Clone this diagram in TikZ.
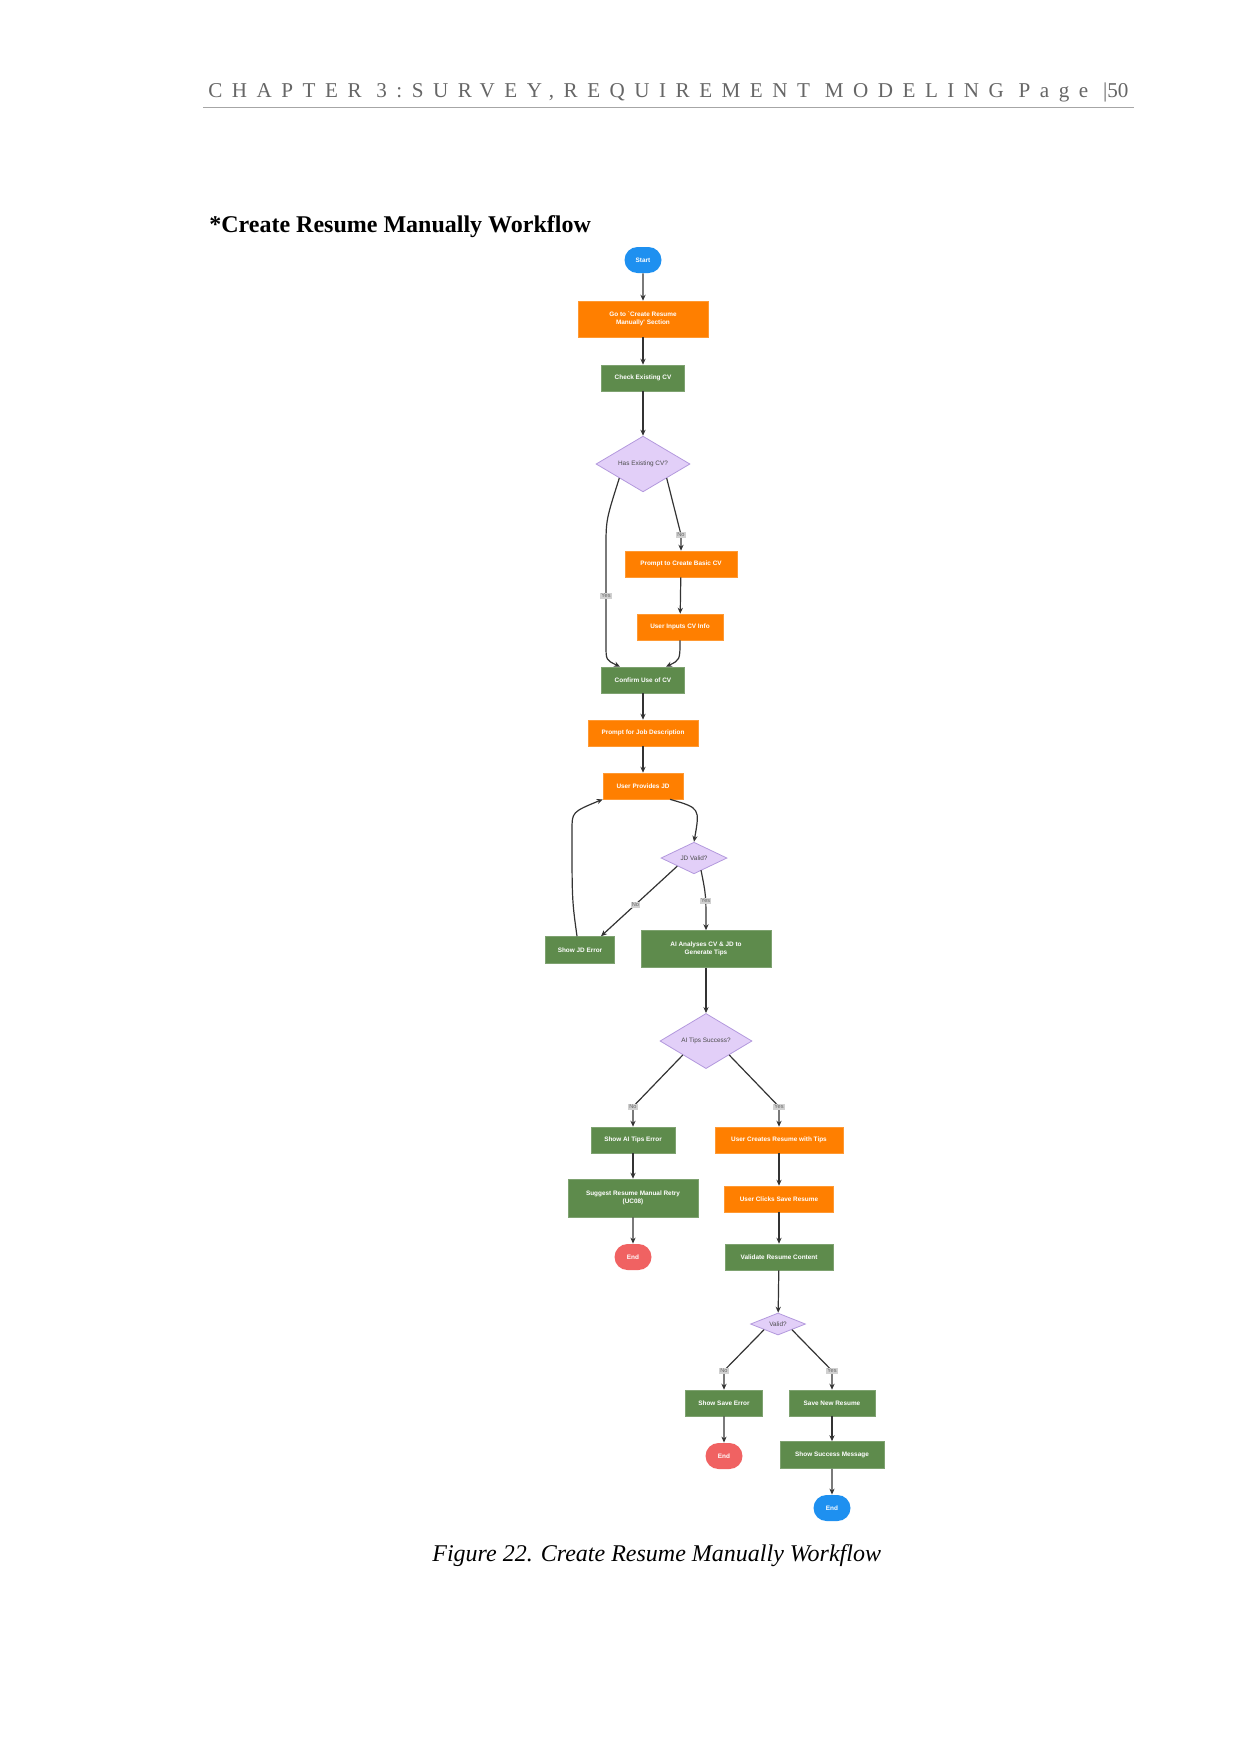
\documentclass[tikz,border=0pt]{standalone}
\usepackage{fontspec}
\setmainfont{Liberation Serif}
\newfontfamily\sans{Liberation Sans}
\newfontfamily\spaced[LetterSpace=45]{Liberation Serif}
\usetikzlibrary{shapes.geometric,shapes.misc,arrows.meta,calc}
\definecolor{cor}{HTML}{FF7F00}
\definecolor{cgr}{HTML}{5E8B4C}
\definecolor{cpu}{HTML}{E2CFF8}
\definecolor{cpb}{HTML}{B399DD}
\definecolor{cbl}{HTML}{1E90F0}
\definecolor{crd}{HTML}{F06262}
\definecolor{cln}{HTML}{333333}
\begin{document}
\begin{tikzpicture}[x=0.5pt,y=-0.5pt,
  base/.style={inner sep=0pt,align=center,text=white,font=\sans\bfseries\fontsize{3.2}{4.2}\selectfont},
  ob/.style={base,rectangle,fill=cor,draw=cor!80!white,line width=0.3pt},
  gb/.style={base,rectangle,fill=cgr,draw=cgr!80!white,line width=0.3pt},
  dm/.style={diamond,aspect=1,inner sep=0pt,fill=cpu,draw=cpb,line width=0.4pt,text=black!70,font=\sans\fontsize{3.2}{4}\selectfont},
  tm/.style={base,rounded rectangle,minimum width=18.5pt,minimum height=13pt},
  lab/.style={fill=black!18,inner sep=0.6pt,text=black!60,font=\sans\fontsize{2.8}{3}\selectfont},
  ar/.style={draw=cln,line width=0.6pt,-{Stealth[length=3pt,width=2.6pt]}}]
\useasboundingbox (0,0) rectangle (1241,1753);
% header
\node[anchor=base west,text=black!60,inner sep=0pt] (hdr) at (208,97)
  {\resizebox{460pt}{!}{{\spaced CHAPTER 3:SURVEY,REQUIREMENT MODELING Page }|50}};
\coordinate (hl) at (203,107); \coordinate (hr) at (1134,107);
\draw[black!35,line width=0.5pt] (hl) -- (hr);
\node[anchor=base west,inner sep=0pt,font=\fontsize{12}{14}\selectfont\bfseries] (title) at (209,232) {*Create Resume Manually Workflow};
\node[anchor=base west,inner sep=0pt,font=\fontsize{12}{14}\selectfont\itshape] (cap) at (432,1561) {Figure 22. Create Resume Manually Workflow};
% nodes
\node[tm,fill=cbl] (start) at (643,260) {Start};
\node[ob,minimum width=65pt,minimum height=18pt] (goto) at (643,319) {Go to `Create Resume\\Manually' Section};
\node[gb,minimum width=41.5pt,minimum height=13pt] (check) at (643,378) {Check Existing CV};
\node[dm,minimum width=47pt] (d1) at (643,464) {Has Existing CV?};
\node[ob,minimum width=56pt,minimum height=13pt] (pbasic) at (681,564) {Prompt to Create Basic CV};
\node[ob,minimum width=43pt,minimum height=13pt] (uinput) at (680,627) {User Inputs CV Info};
\node[gb,minimum width=41.5pt,minimum height=13pt] (confirm) at (643,680) {Confirm Use of CV};
\node[ob,minimum width=55pt,minimum height=13pt] (pjd) at (643,733) {Prompt for Job Description};
\node[ob,minimum width=40pt,minimum height=13pt] (ujd) at (643,786) {User Provides JD};
\node[dm,minimum width=33pt] (d2) at (694,858) {JD Valid?};
\node[gb,minimum width=34.5pt,minimum height=13.5pt] (jderr) at (580,950) {Show JD Error};
\node[gb,minimum width=65pt,minimum height=18.5pt] (ai) at (706,949) {AI Analyses CV \& JD to\\Generate Tips};
\node[dm,minimum width=46pt] (d3) at (706,1041) {AI Tips Success?};
\node[gb,minimum width=42pt,minimum height=13pt] (tiperr) at (633,1140) {Show AI Tips Error};
\node[ob,minimum width=64pt,minimum height=13pt] (ucreate) at (779,1140) {User Creates Resume with Tips};
\node[gb,minimum width=65pt,minimum height=19pt] (retry) at (633,1198) {Suggest Resume Manual Retry\\(UC08)};
\node[tm,fill=crd] (end1) at (633,1257) {End};
\node[ob,minimum width=54.5pt,minimum height=13pt] (uclick) at (779,1199) {User Clicks Save Resume};
\node[gb,minimum width=54pt,minimum height=13pt] (valid) at (779,1257) {Validate Resume Content};
\node[dm,minimum width=27.5pt] (d4) at (778,1324) {Valid?};
\node[gb,minimum width=38.5pt,minimum height=13pt] (saverr) at (724,1403) {Show Save Error};
\node[gb,minimum width=43pt,minimum height=13pt] (savenew) at (832,1403) {Save New Resume};
\node[tm,fill=crd] (end2) at (724,1456) {End};
\node[gb,minimum width=52pt,minimum height=13.5pt] (succ) at (832,1455) {Show Success Message};
\node[tm,fill=cbl] (end3) at (832,1508) {End};
% edges
\draw[ar] (start) -- (goto);
\draw[ar] (goto) -- (check);
\draw[ar] (check) -- (d1);
\draw[ar] (d1.south east) -- ($(pbasic.north)+(0,-16)$) node[lab,pos=1]{No} -- (pbasic.north);
\draw[ar] (d1.south west) .. controls (606,520) .. (606,548) -- (606,645) .. controls (606,660) .. ($(confirm.north)+(-23,0)$);
\node[lab] (yes1) at (606,596) {Yes};
\draw[ar] (pbasic) -- (uinput);
\draw[ar] (uinput.south) .. controls (680,660) .. ($(confirm.north)+(23,0)$);
\draw[ar] (confirm) -- (pjd);
\draw[ar] (pjd) -- (ujd);
\draw[ar] ($(ujd.south)+(27,0)$) .. controls (700,808) .. (d2.north);
\draw[ar] (d2.south west) -- ($(jderr.north)+(21,0)$) node[lab,pos=0.55]{No};
\draw[ar] ($(d2.south)+(7,-4)$) .. controls (706,895) .. (ai.north) node[lab,pos=0.6]{Yes};
\draw[ar] ($(jderr.north)+(-3,0)$) .. controls (572,900) .. (572,830) .. controls (572,812) .. (ujd.south west);
\draw[ar] (ai) -- (d3);
\draw[ar] (d3.south west) -- ($(tiperr.north)+(0,-20)$) node[lab,pos=1]{No} -- (tiperr.north);
\draw[ar] (d3.south east) -- ($(ucreate.north)+(0,-20)$) node[lab,pos=1]{Yes} -- (ucreate.north);
\draw[ar] (tiperr) -- (retry);
\draw[ar] (retry) -- (end1);
\draw[ar] (ucreate) -- (uclick);
\draw[ar] (uclick) -- (valid);
\draw[ar] (valid) -- (d4);
\draw[ar] (d4.south west) -- ($(saverr.north)+(0,-19)$) node[lab,pos=1]{No} -- (saverr.north);
\draw[ar] (d4.south east) -- ($(savenew.north)+(0,-19)$) node[lab,pos=1]{Yes} -- (savenew.north);
\draw[ar] (saverr) -- (end2);
\draw[ar] (savenew) -- (succ);
\draw[ar] (succ) -- (end3);
\end{tikzpicture}
\end{document}
